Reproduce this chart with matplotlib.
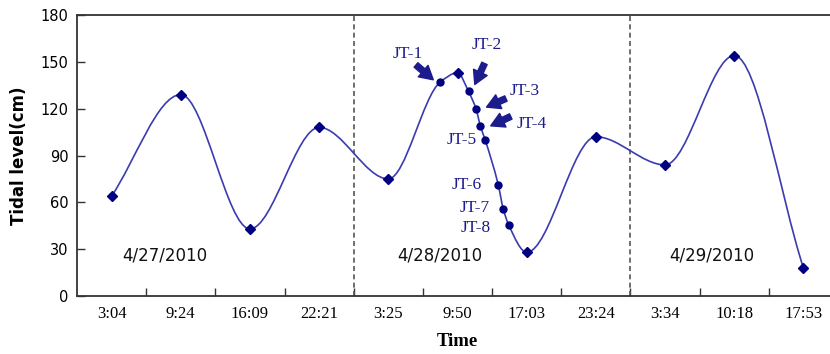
import numpy as np
import matplotlib
matplotlib.use('Agg')
import matplotlib.pyplot as plt
from matplotlib.path import Path
from matplotlib.patches import PathPatch

# tide readings at each category (time label)
times = ['3:04', '9:24', '16:09', '22:21', '3:25', '9:50', '17:03', '23:24', '3:34', '10:18', '17:53']
levels = [64, 129, 43, 108, 75, 143, 28, 102, 84, 154, 18]

# sampling points JT-1 .. JT-8 (position on category axis, tidal level)
jt_names = ['JT-1', 'JT-2', 'JT-3', 'JT-4', 'JT-5', 'JT-6', 'JT-7', 'JT-8']
jt_x = [4.75, 5.16, 5.27, 5.33, 5.40, 5.59, 5.66, 5.74]
jt_y = [137, 131, 119.5, 109, 100, 71, 56, 45.5]

dates = ['4/27/2010', '4/28/2010', '4/29/2010']
date_x = [0.77, 4.74, 8.67]
day_breaks = [3.5, 7.5]

navy = '#000080'
line_c = '#3b3bb0'
txt_c = '#1c1c8c'

fig = plt.figure(figsize=(8.3, 3.54), dpi=100)
ax = fig.add_axes([77/830, 1-296/354, 761/830, 281/354])

# smooth line through every point: monotone cubic drawn as bezier path
cat_x = np.arange(len(levels), dtype=float)
px = np.concatenate([cat_x, jt_x])
py = np.concatenate([levels, jt_y]).astype(float)
order = np.argsort(px)
X, Y = px[order], py[order]
h = np.diff(X)
d = np.diff(Y) / h
n = len(X)
m = np.zeros(n)
for i in range(1, n - 1):
    if d[i - 1] * d[i] > 0:
        w1 = 2 * h[i] + h[i - 1]
        w2 = h[i] + 2 * h[i - 1]
        m[i] = (w1 + w2) / (w1 / d[i - 1] + w2 / d[i])
m[0] = d[0]
m[-1] = d[-1]
verts = [(X[0], Y[0])]
codes = [Path.MOVETO]
for i in range(n - 1):
    verts += [(X[i] + h[i] / 3, Y[i] + m[i] * h[i] / 3),
              (X[i + 1] - h[i] / 3, Y[i + 1] - m[i + 1] * h[i] / 3),
              (X[i + 1], Y[i + 1])]
    codes += [Path.CURVE4] * 3
ax.add_patch(PathPatch(Path(verts, codes), fc='none', ec=line_c, lw=1.2, zorder=3))

ax.plot(cat_x, levels, ls='none', marker='D', ms=5, color=navy, zorder=4)
ax.plot(jt_x, jt_y, ls='none', marker='o', ms=5, color=navy, zorder=4)

for b in day_breaks:
    ax.axvline(b, color='#555555', ls=(0, (3, 2)), lw=1.2, zorder=2)

for d_, x in zip(dates, date_x):
    ax.text(x, 25.7, d_, ha='center', va='center', fontsize=12, family='DejaVu Sans', color='#111111')

# labels and arrows for sampling points
lab_pos = [(4.28, 155), (5.43, 161), (5.97, 131), (6.07, 110), (5.06, 100), (5.14, 71), (5.25, 56.6), (5.27, 43.7)]
for name, (tx, ty) in zip(jt_names, lab_pos):
    ax.text(tx, ty, name, ha='center', va='center', fontsize=12.5, family='Liberation Serif', color=txt_c)
arrows = [((4.40, 148), (4.65, 138.5)), ((5.39, 149), (5.25, 135.5)),
          ((5.70, 126.5), (5.42, 121)), ((5.77, 115), (5.48, 109))]
for tail, head in arrows:
    ax.annotate('', xy=head, xytext=tail,
                arrowprops=dict(arrowstyle='simple,head_width=0.9,head_length=0.8,tail_width=0.35',
                                mutation_scale=12, fc=txt_c, ec=txt_c, shrinkA=0, shrinkB=0))

ax.set_xlim(-0.5, 10.5)
ax.set_ylim(0, 180)
ax.set_yticks(np.arange(0, 181, 30))
ax.set_xticks(cat_x)
ax.set_xticklabels(times, family='Liberation Serif', fontsize=12)
ax.set_xticks(np.arange(0.5, 10.5, 1), minor=True)
ax.tick_params(axis='x', which='major', length=0, pad=7)
ax.tick_params(axis='x', which='minor', direction='in', length=6, width=1, color='#333333')
ax.tick_params(axis='y', direction='in', length=6, width=1, color='#333333', labelsize=10.5, pad=6)
for s in ax.spines.values():
    s.set_color('#333333')
    s.set_linewidth(1.3)

ax.set_xlabel('Time', family='Liberation Serif', fontweight='bold', fontsize=13.5, labelpad=8)
ax.set_ylabel('Tidal level(cm)', family='DejaVu Sans', fontweight='bold', fontsize=12, labelpad=9)

plt.savefig('out.png', dpi=100)
